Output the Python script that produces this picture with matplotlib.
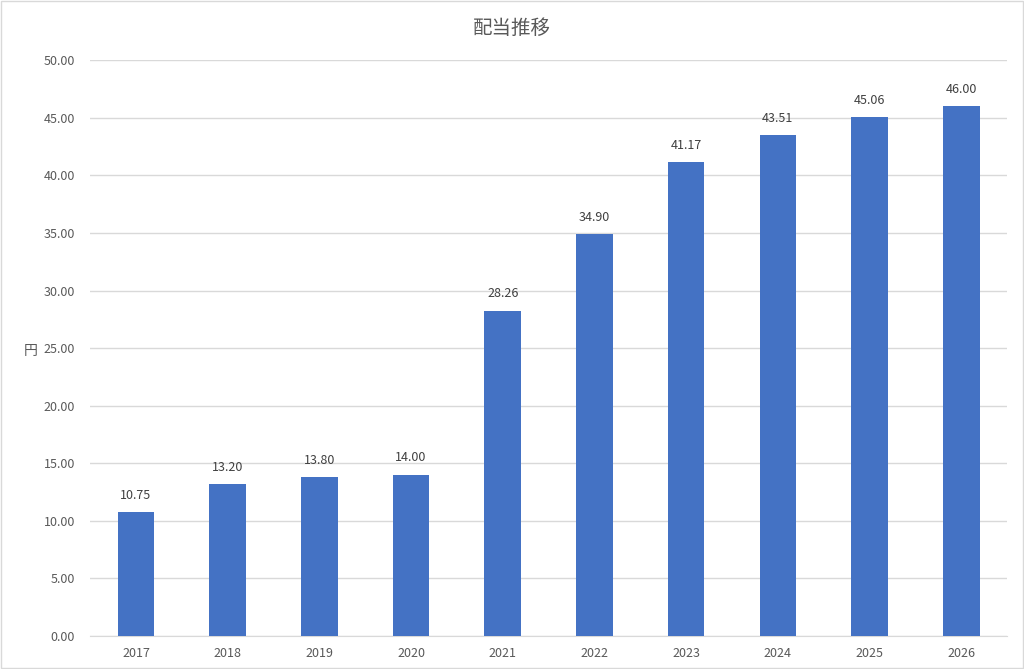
import matplotlib
matplotlib.use("Agg")
import matplotlib.pyplot as plt
import numpy as np

plt.rcParams['font.family'] = ['Noto Sans CJK JP', 'DejaVu Sans']

# データ
years = ["2017", "2018", "2019", "2020", "2021", "2022", "2023", "2024", "2025", "2026"]
dividends = [10.75, 13.20, 13.80, 14.00, 28.26, 34.90, 41.17, 43.51, 45.06, 46.00]

txt = "#595959"
grid = "#D9D9D9"

fig = plt.figure(figsize=(10.24, 6.69), dpi=100)
ax = fig.add_axes([0.088, 0.0493, 0.8955, 0.8607])

x = np.arange(len(years))
bars = ax.bar(x, dividends, width=0.4, color="#4472C4", zorder=3)

# 値ラベル
for xi, v in zip(x, dividends):
    ax.text(xi, v + 0.9, f"{v:.2f}", ha="center", va="bottom", fontsize=9, color="#404040")

ax.set_xlim(-0.5, len(years) - 0.5)
ax.set_ylim(0, 50)
ax.set_yticks(np.arange(0, 50.1, 5))
ax.set_yticklabels([f"{t:.2f}" for t in np.arange(0, 50.1, 5)])
ax.set_xticks(x)
ax.set_xticklabels(years)
ax.tick_params(axis="both", length=0, labelsize=9, colors=txt, pad=8)
ax.tick_params(axis="y", pad=11)

ax.grid(axis="y", color=grid, linewidth=1, zorder=0)
for s in ["top", "right", "left"]:
    ax.spines[s].set_visible(False)
ax.spines["bottom"].set_color(grid)

# 軸ラベル(横書き)
fig.text(31 / 1024, 1 - 351 / 669, "円", ha="center", va="center", fontsize=10, color=txt)
fig.text(0.5, 0.958, "配当推移", ha="center", va="center", fontsize=14, color=txt)

# 外枠
fig.patches.append(plt.Rectangle((0.001, 0.001), 0.998, 0.998, transform=fig.transFigure,
                                 fill=False, edgecolor="#D9D9D9", linewidth=1))

fig.savefig("out.png", dpi=100)
